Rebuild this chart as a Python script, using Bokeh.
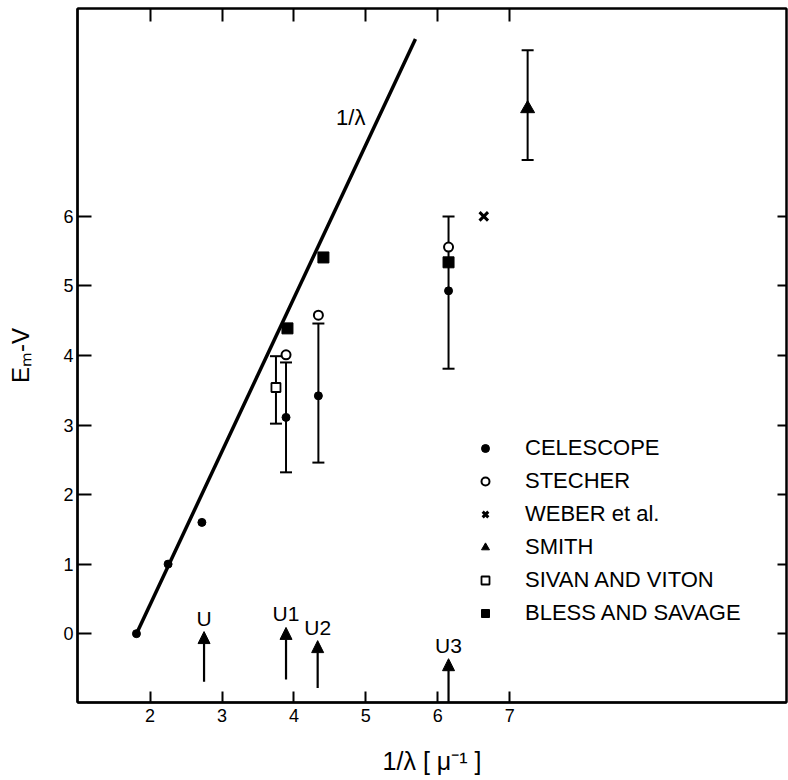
import numpy as np
from bokeh.plotting import figure
from bokeh.models import (ColumnDataSource, Whisker, TeeHead, Arrow, NormalHead, Label,
                          LabelSet, LinearAxis, FixedTicker, Legend, LegendItem, Range1d)
from bokeh.embed import file_html
from bokeh.resources import INLINE
from bokeh.core.properties import value

# ---------------- data ----------------
celescope_x = [1.81, 2.25, 2.72, 3.89, 4.34, 6.15]
celescope_y = [0.0, 1.0, 1.6, 3.11, 3.42, 4.93]
stecher_x = [3.89, 4.34, 6.15]
stecher_y = [4.01, 4.58, 5.56]
weber_x = [6.64]
weber_y = [6.0]
smith_x = [7.25]
smith_y = [7.55]
sivan_x = [3.75]
sivan_y = [3.54]
bless_x = [3.91, 4.41, 6.15]
bless_y = [4.39, 5.41, 5.34]

# error bars
err_x = [3.75, 3.89, 4.34, 6.15, 7.25]
err_lower = [3.02, 2.32, 2.46, 3.81, 6.81]
err_upper = [3.99, 3.90, 4.46, 6.00, 8.39]

# 1/lambda law line
law_x = [1.81, 5.69]
law_y = [0.0, 8.55]

# photometric bands
band_names = ["U", "U1", "U2", "U3"]
band_x = [2.75, 3.89, 4.33, 6.15]
band_tail = [-0.69, -0.66, -0.78, -1.0]
band_tip = [0.03, 0.09, -0.10, -0.36]

x_ticks = [2, 3, 4, 5, 6, 7]
y_ticks = [0, 1, 2, 3, 4, 5, 6]

FONT = "Liberation Sans"

p = figure(width=788, height=780, output_backend="svg", toolbar_location=None,
           x_range=Range1d(0.99, 10.85), y_range=Range1d(-0.99, 8.99),
           min_border_left=77, min_border_right=2, min_border_top=8, min_border_bottom=78)
p.grid.visible = False
p.outline_line_color = "black"
p.outline_line_width = 2
p.background_fill_color = "white"
p.border_fill_color = "white"

# main axes
for ax in p.xaxis:
    ax.ticker = FixedTicker(ticks=x_ticks)
    ax.major_tick_in = 11
    ax.major_tick_out = 0
    ax.minor_tick_line_color = None
    ax.axis_line_width = 2.5
    ax.major_tick_line_width = 2
    ax.major_label_text_font_size = "18px"
    ax.major_label_text_font = FONT
    ax.major_label_text_color = "black"
    ax.major_label_standoff = 6
    ax.axis_label = "1/λ [ μ⁻¹ ]"
    ax.axis_label_text_font = FONT
    ax.axis_label_text_font_size = "25px"
    ax.axis_label_text_font_style = "normal"
    ax.axis_label_text_color = "black"
    ax.axis_label_standoff = 22
for ax in p.yaxis:
    ax.ticker = FixedTicker(ticks=y_ticks)
    ax.major_tick_in = 14
    ax.major_tick_out = 0
    ax.minor_tick_line_color = None
    ax.axis_line_width = 2.5
    ax.major_tick_line_width = 2
    ax.major_label_text_font_size = "18px"
    ax.major_label_text_font = FONT
    ax.major_label_text_color = "black"
    ax.major_label_standoff = 4
    ax.axis_label = "Eₘ-V"
    ax.axis_label_text_font = FONT
    ax.axis_label_text_font_size = "24px"
    ax.axis_label_text_font_style = "normal"
    ax.axis_label_text_color = "black"
    ax.axis_label_standoff = 26

top_ax = LinearAxis(ticker=FixedTicker(ticks=x_ticks), major_tick_in=13, major_tick_out=0,
                    minor_tick_line_color=None, axis_line_width=2, major_tick_line_width=2,
                    major_label_overrides={t: "" for t in x_ticks},
                    major_label_text_font_size="1px", major_label_standoff=0)
p.add_layout(top_ax, "above")
right_ax = LinearAxis(ticker=FixedTicker(ticks=y_ticks), major_tick_in=9, major_tick_out=0,
                      minor_tick_line_color=None, axis_line_width=2, major_tick_line_width=2,
                      major_label_overrides={t: "" for t in y_ticks},
                      major_label_text_font_size="1px", major_label_standoff=0)
p.add_layout(right_ax, "right")

# law line
p.line(law_x, law_y, line_color="black", line_width=3.5)

# error bars
err_src = ColumnDataSource(dict(base=err_x, lower=err_lower, upper=err_upper))
p.add_layout(Whisker(source=err_src, base="base", lower="lower", upper="upper",
                     dimension="height", line_width=2, line_color="black",
                     upper_head=TeeHead(size=12, line_width=2, line_color="black"),
                     lower_head=TeeHead(size=12, line_width=2, line_color="black")))

# series
r_cel = p.scatter(celescope_x, celescope_y, marker="circle", size=8, fill_color="black",
                  line_color="black")
r_ste = p.scatter(stecher_x, stecher_y, marker="circle", size=9, fill_color="white",
                  line_color="black", line_width=2)
r_web = p.scatter(weber_x, weber_y, marker="x", size=12, line_color="black", line_width=3)
r_smi = p.scatter(smith_x, smith_y, marker="triangle", size=14, fill_color="black",
                  line_color="black")
r_siv = p.scatter(sivan_x, sivan_y, marker="square", size=9, fill_color="white",
                  line_color="black", line_width=1.8)
r_ble = p.scatter(bless_x, bless_y, marker="square", size=11, fill_color="black",
                  line_color="black")

# band arrows
band_src = ColumnDataSource(dict(name=band_names, x=band_x, tail=band_tail, tip=band_tip))
p.add_layout(Arrow(source=band_src, x_start="x", y_start="tail", x_end="x", y_end="tip",
                   line_width=2.2, line_color="black",
                   end=NormalHead(size=12, fill_color="black", line_color="black", line_width=1)))
p.add_layout(LabelSet(source=band_src, x="x", y="tip", text="name", y_offset=2,
                      text_align="center", text_baseline="bottom",
                      text_font_size=value("21px"), text_font=value(FONT),
                      text_color="black"))

# law label
p.add_layout(Label(x=4.79, y=7.42, text="1/λ", text_align="center", text_baseline="middle",
                   text_font_size="22px", text_font=FONT, text_color="black"))

# legend
legend = Legend(items=[
    LegendItem(label="CELESCOPE", renderers=[r_cel]),
    LegendItem(label="STECHER", renderers=[r_ste]),
    LegendItem(label="WEBER et al.", renderers=[r_web]),
    LegendItem(label="SMITH", renderers=[r_smi]),
    LegendItem(label="SIVAN AND VITON", renderers=[r_siv]),
    LegendItem(label="BLESS AND SAVAGE", renderers=[r_ble]),
], location=(398, 76), orientation="vertical", border_line_color=None,
    background_fill_alpha=0, padding=0, margin=0, spacing=7,
    glyph_width=20, glyph_height=22, label_height=22, label_standoff=30,
    label_text_font_size="22px", label_text_font=FONT, label_text_color="black")
p.add_layout(legend, "center")

open("out.html", "w").write(file_html(p, INLINE, title="E-V vs 1/lambda"))
